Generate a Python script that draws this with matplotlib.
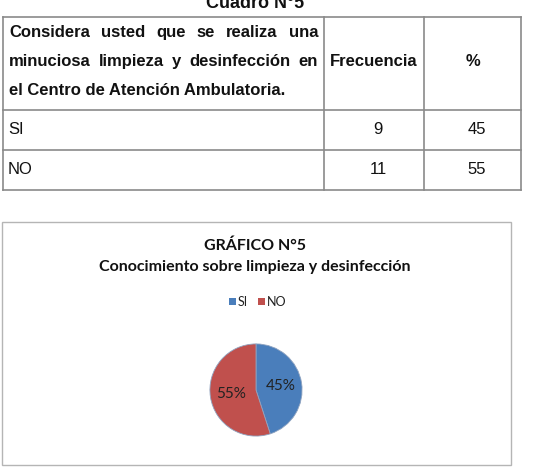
import matplotlib.pyplot as plt
from matplotlib.patches import Rectangle

# table data
question = ["Considera usted que se realiza una",
            "minuciosa limpieza y desinfección en",
            "el Centro de Atención Ambulatoria."]
col_heads = ["Frecuencia", "%"]
categories = ["SI", "NO"]
frecuencia = [9, 11]
porcentaje = [45, 55]

chart_title = "GRÁFICO N°5"
chart_subtitle = "Conocimiento sobre limpieza y desinfección"
pie_colors = ["#4a7ebb", "#c0504d"]

W, H = 551, 476
fig = plt.figure(figsize=(W / 100, H / 100), dpi=100)
fig.patch.set_facecolor("white")

# full-figure axes in pixel units
ax = fig.add_axes([0, 0, 1, 1])
ax.set_xlim(0, W)
ax.set_ylim(H, 0)
ax.axis("off")
renderer = fig.canvas.get_renderer()

tfont = "Liberation Sans"
tsize = 12
ax.text(255, 3, "Cuadro N°5", ha="center", va="center", fontsize=13,
        fontweight="bold", family=tfont, color="#111")

# table grid
xs = [3, 324, 424, 521]
ys = [17, 110, 150, 190]
lc = "#8a8a8a"
for x in xs:
    ax.plot([x, x], [ys[0], ys[-1]], color=lc, lw=1.2)
for y in ys:
    ax.plot([xs[0], xs[-1]], [y, y], color=lc, lw=1.2)


def justified(line, x0, x1, y, justify):
    # y is the baseline
    words = line.split()
    if not justify:
        ax.text(x0, y, line, ha="left", va="baseline", fontsize=tsize,
                fontweight="bold", family=tfont, color="#111")
        return
    arts = [ax.text(0, y, w, ha="left", va="baseline", fontsize=tsize,
                    fontweight="bold", family=tfont, color="#111") for w in words]
    widths = [a.get_window_extent(renderer).width for a in arts]
    gap = (x1 - x0 - sum(widths)) / (len(words) - 1)
    x = x0
    for a, w in zip(arts, widths):
        a.set_x(x)
        x += w + gap


for i, line in enumerate(question):
    justified(line, 9, 318, 37 + i * 29, i < 2)

ax.text((xs[1] + xs[2]) / 2, 61, col_heads[0], ha="center", va="center",
        fontsize=tsize, fontweight="bold", family=tfont, color="#111")
ax.text((xs[2] + xs[3]) / 2, 61, col_heads[1], ha="center", va="center",
        fontsize=tsize, fontweight="bold", family=tfont, color="#111")

for r, (cat, f, p) in enumerate(zip(categories, frecuencia, porcentaje)):
    yc = (ys[r + 1] + ys[r + 2]) / 2
    ax.text(8, yc, cat, ha="left", va="center", fontsize=tsize, family=tfont, color="#111")
    ax.text(378, yc, str(f), ha="center", va="center", fontsize=tsize, family=tfont, color="#111")
    ax.text(477, yc, str(p), ha="center", va="center", fontsize=tsize, family=tfont, color="#111")

# chart frame
ax.add_patch(Rectangle((2, 222), 509, 243, fill=False, edgecolor="#b5b5b5", lw=1.0))
cfont = "Lato"
ax.text(255, 246, chart_title, ha="center", va="center", fontsize=11.5,
        fontweight="bold", family=cfont, color="#111")
ax.text(255, 267, chart_subtitle, ha="center", va="center", fontsize=11.5,
        fontweight="bold", family=cfont, color="#111")

# legend
for k, (cat, col) in enumerate(zip(categories, pie_colors)):
    lx = [229, 258][k]
    ax.add_patch(Rectangle((lx, 298), 7, 7, facecolor=col, edgecolor="none"))
    ax.text(lx + 9, 302, cat, ha="left", va="center", fontsize=9,
            family=cfont, color="#222")

# pie
cx, cy, rad = 256, 390, 47
pax = fig.add_axes([(cx - rad) / W, 1 - (cy + rad) / H, 2 * rad / W, 2 * rad / H])
pax.pie(porcentaje, colors=pie_colors, startangle=90, counterclock=False,
        labels=None, autopct="%d%%", pctdistance=0.55,
        wedgeprops=dict(edgecolor="#8fa3c0", linewidth=0.6),
        textprops=dict(fontsize=11, family=cfont, color="#222"))
pax.set_xlim(-1.02, 1.02)
pax.set_ylim(-1.02, 1.02)
pax.set_aspect("auto")

fig.savefig("out.png", dpi=100)
